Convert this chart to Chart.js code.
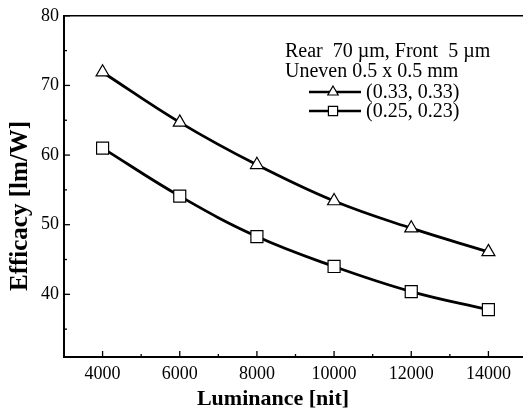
<!DOCTYPE html>
<html>
<head>
<meta charset="utf-8">
<script src="https://cdn.jsdelivr.net/npm/chart.js@4/dist/chart.umd.min.js"></script>
<style>
html,body{margin:0;padding:0;background:#fff;overflow:hidden;width:523px;height:412px;}
#wrap{position:absolute;left:0;top:0;width:540px;height:412px;}
</style>
</head>
<body>
<div id="wrap"><canvas id="c" width="540" height="412"></canvas></div>
<script>
const luminance = [4000, 6000, 8000, 10000, 12000, 14000];
const effA = [71.9, 64.7, 58.6, 53.4, 49.5, 46.1];   // (0.33, 0.33)
const effB = [61.0, 54.1, 48.3, 44.0, 40.4, 37.8];   // (0.25, 0.23)
const seriesLabels = ['(0.33, 0.33)', '(0.25, 0.23)'];
const headerLines = ['Rear  70 \u00b5m, Front  5 \u00b5m', 'Uneven 0.5 x 0.5 mm'];
const xTicks = [4000, 6000, 8000, 10000, 12000, 14000];
const xMinor = [3000, 5000, 7000, 9000, 11000, 13000, 15000];
const yTicks = [40, 50, 60, 70, 80];
const yMinor = [35, 45, 55, 65, 75];
const xTitle = 'Luminance [nit]';
const yTitle = 'Efficacy [lm/W]';

const FONT = "'Liberation Serif', 'DejaVu Serif', serif";

const frameAndTicks = {
  id: 'frameAndTicks',
  afterDraw(chart) {
    const ctx = chart.ctx, a = chart.chartArea;
    const xs = chart.scales.x, ys = chart.scales.y;
    ctx.save();
    ctx.strokeStyle = '#000';
    ctx.lineWidth = 1.6;
    ctx.beginPath(); ctx.moveTo(a.left, a.top); ctx.lineTo(a.right + 20, a.top); ctx.stroke();
    ctx.lineWidth = 1.3;
    xTicks.forEach(v => { const p = xs.getPixelForValue(v); ctx.beginPath(); ctx.moveTo(p, a.bottom); ctx.lineTo(p, a.bottom - 6); ctx.stroke(); });
    xMinor.forEach(v => { const p = xs.getPixelForValue(v); ctx.beginPath(); ctx.moveTo(p, a.bottom); ctx.lineTo(p, a.bottom - 3); ctx.stroke(); });
    yTicks.forEach(v => { const p = ys.getPixelForValue(v); ctx.beginPath(); ctx.moveTo(a.left, p); ctx.lineTo(a.left + 6, p); ctx.stroke(); });
    yMinor.forEach(v => { const p = ys.getPixelForValue(v); ctx.beginPath(); ctx.moveTo(a.left, p); ctx.lineTo(a.left + 3, p); ctx.stroke(); });
    ctx.fillStyle = '#000';
    ctx.textAlign = 'center';
    ctx.textBaseline = 'middle';
    ctx.font = "bold 22px " + FONT;
    ctx.fillText(xTitle, 273, 399);
    ctx.translate(21, 206);
    ctx.rotate(-Math.PI / 2);
    ctx.font = "bold 25px " + FONT;
    ctx.fillText(yTitle, 0, 0);
    ctx.restore();
  }
};

const boxLegend = {
  id: 'boxLegend',
  afterDraw(chart) {
    const ctx = chart.ctx;
    ctx.save();
    ctx.fillStyle = '#000';
    ctx.font = "20px " + FONT;
    ctx.textBaseline = 'middle';
    ctx.textAlign = 'left';
    const x0 = 285, rows = [52, 72, 92, 111];
    headerLines.forEach((t, i) => ctx.fillText(t, x0, rows[i]));
    chart.data.datasets.forEach((ds, i) => {
      const y = rows[i + 2];
      ctx.strokeStyle = '#000'; ctx.lineWidth = 2.4;
      ctx.beginPath(); ctx.moveTo(309, y); ctx.lineTo(361, y); ctx.stroke();
      ctx.fillStyle = '#fff';
      ctx.strokeStyle = '#000'; ctx.lineWidth = 1.2;
      Chart.helpers.drawPoint(ctx, {pointStyle: ds.pointStyle, radius: ds.pointStyle === 'triangle' ? 6 : 6.5, borderWidth: 1.2}, 333, y);
      ctx.fillStyle = '#000';
      ctx.fillText(ds.label, 366, y + 1);
    });
    ctx.restore();
  }
};

new Chart(document.getElementById('c'), {
  type: 'line',
  data: {
    labels: luminance,
    datasets: [
      { label: seriesLabels[0], data: luminance.map((x, i) => ({x, y: effA[i]})), borderColor: '#000', borderWidth: 2.8, tension: 0.4,
        pointStyle: 'triangle', pointRadius: 7.5, pointBackgroundColor: '#fff', pointBorderColor: '#000', pointBorderWidth: 1.2 },
      { label: seriesLabels[1], data: luminance.map((x, i) => ({x, y: effB[i]})), borderColor: '#000', borderWidth: 2.8, tension: 0.4,
        pointStyle: 'rect', pointRadius: 8.5, pointBackgroundColor: '#fff', pointBorderColor: '#000', pointBorderWidth: 1.2 }
    ]
  },
  options: {
    responsive: false,
    animation: false,
    devicePixelRatio: 1,
    layout: { padding: { top: 14, right: 13, left: 0, bottom: 0 } },
    plugins: { legend: { display: false }, tooltip: { enabled: false } },
    scales: {
      x: {
        type: 'linear', min: 3000, max: 15000,
        afterBuildTicks: s => { s.ticks = xTicks.map(v => ({value: v})); },
        afterFit: s => { s.height = 55; },
        grid: { display: false, drawTicks: false },
        border: { display: true, color: '#000', width: 2 },
        ticks: { color: '#000', font: { family: FONT, size: 18 }, padding: 6, maxRotation: 0, callback: v => String(v) }
      },
      y: {
        type: 'linear', min: 31, max: 80,
        afterBuildTicks: s => { s.ticks = yTicks.map(v => ({value: v})); },
        afterFit: s => { s.width = 64; },
        grid: { display: false, drawTicks: false },
        border: { display: true, color: '#000', width: 2 },
        ticks: { color: '#000', font: { family: FONT, size: 18 }, padding: 5, callback: v => String(v) }
      }
    }
  },
  plugins: [frameAndTicks, boxLegend]
});
</script>
</body>
</html>
